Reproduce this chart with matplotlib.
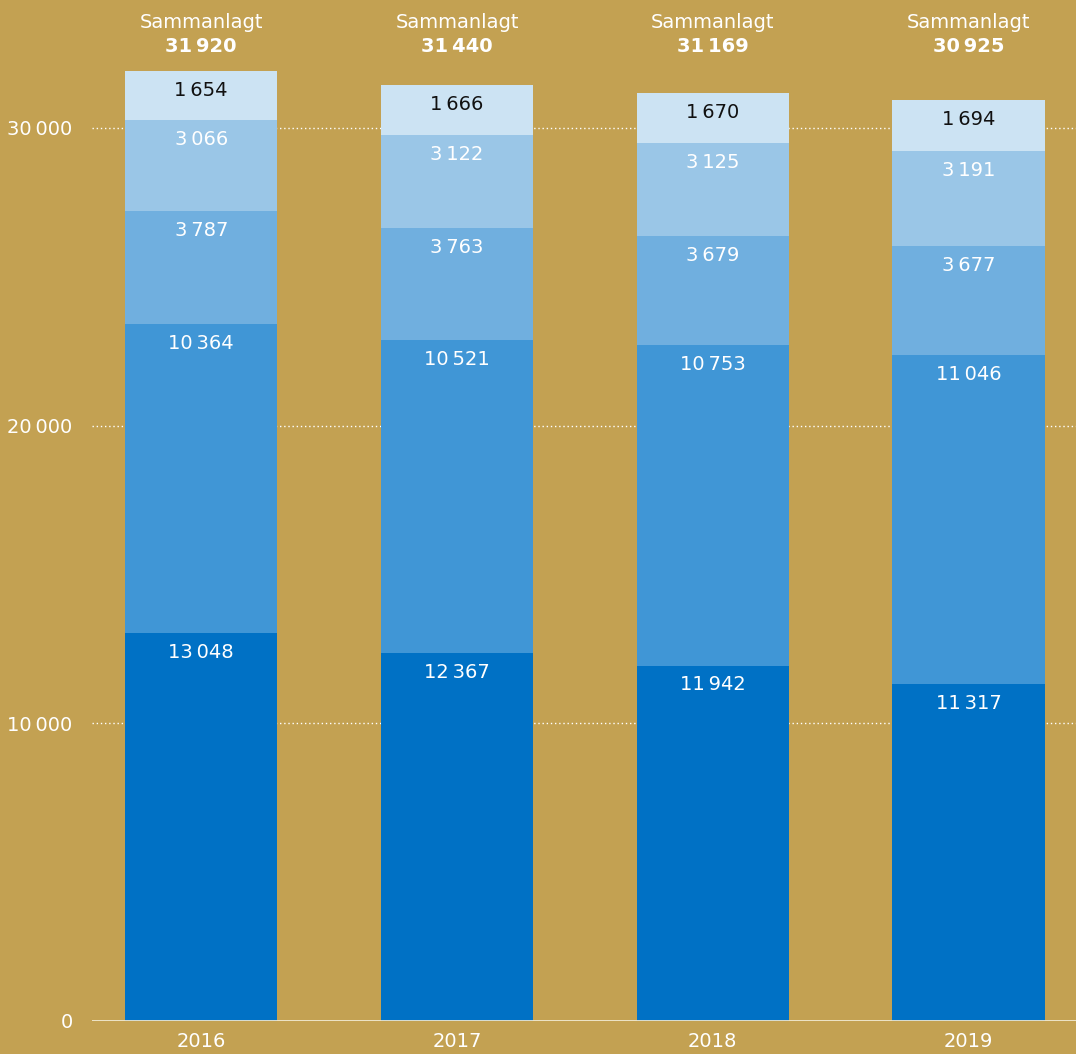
import numpy as np
import matplotlib.pyplot as plt

# data
years = ['2016', '2017', '2018', '2019']
s1 = [13048, 12367, 11942, 11317]
s2 = [10364, 10521, 10753, 11046]
s3 = [3787, 3763, 3679, 3677]
s4 = [3066, 3122, 3125, 3191]
s5 = [1654, 1666, 1670, 1694]
totals = [31920, 31440, 31169, 30925]
yticks = [0, 10000, 20000, 30000]

series = [s1, s2, s3, s4, s5]
colors = ['#0071C5', '#4096D6', '#70AFDF', '#9AC6E7', '#CCE3F3']
txtcol = ['white', 'white', 'white', 'white', '#111111']
bg = '#C3A152'

def fmt(v):
    return f'{v:,}'.replace(',', '\u2009')

fig = plt.figure(figsize=(10.76, 10.54), dpi=100, facecolor=bg)
ax = fig.add_axes([92 / 1076, 33 / 1054, 984 / 1076, 1021 / 1054])
ax.set_facecolor(bg)

x = np.arange(len(years))
bottom = np.zeros(len(years))
for vals, c, tc in zip(series, colors, txtcol):
    vals = np.array(vals)
    ax.bar(x, vals, width=0.595, bottom=bottom, color=c, zorder=2)
    for xi, b, v in zip(x, bottom, vals):
        ax.annotate(fmt(int(v)), (xi, b + v), xytext=(0, -14), textcoords='offset points',
                    ha='center', va='center', color=tc, fontsize=14, zorder=3)
    bottom = bottom + vals

for xi, t in zip(x, totals):
    ax.text(xi, 1 - 22 / 1021, 'Sammanlagt', transform=ax.get_xaxis_transform(),
            ha='center', va='center', color='white', fontsize=14)
    ax.text(xi, 1 - 46 / 1021, fmt(t), transform=ax.get_xaxis_transform(),
            ha='center', va='center', color='white', fontsize=14, fontweight='bold')

for yt in yticks[1:]:
    ax.axhline(yt, color='white', linestyle=(0, (1, 2)), linewidth=1, zorder=1)
ax.axhline(0, color='#F2EAD3', linewidth=2, zorder=3)

ax.set_xlim(-0.427, 3.42)
ax.set_ylim(0, 34300)
ax.set_yticks(yticks)
ax.set_yticklabels([fmt(v) for v in yticks])
ax.set_xticks(x)
ax.set_xticklabels(years)
ax.tick_params(length=0, colors='white', labelsize=14)
ax.tick_params(axis='y', pad=14)
ax.tick_params(axis='x', pad=8)
for s in ax.spines.values():
    s.set_visible(False)

fig.savefig('out.png', dpi=100, facecolor=bg)
